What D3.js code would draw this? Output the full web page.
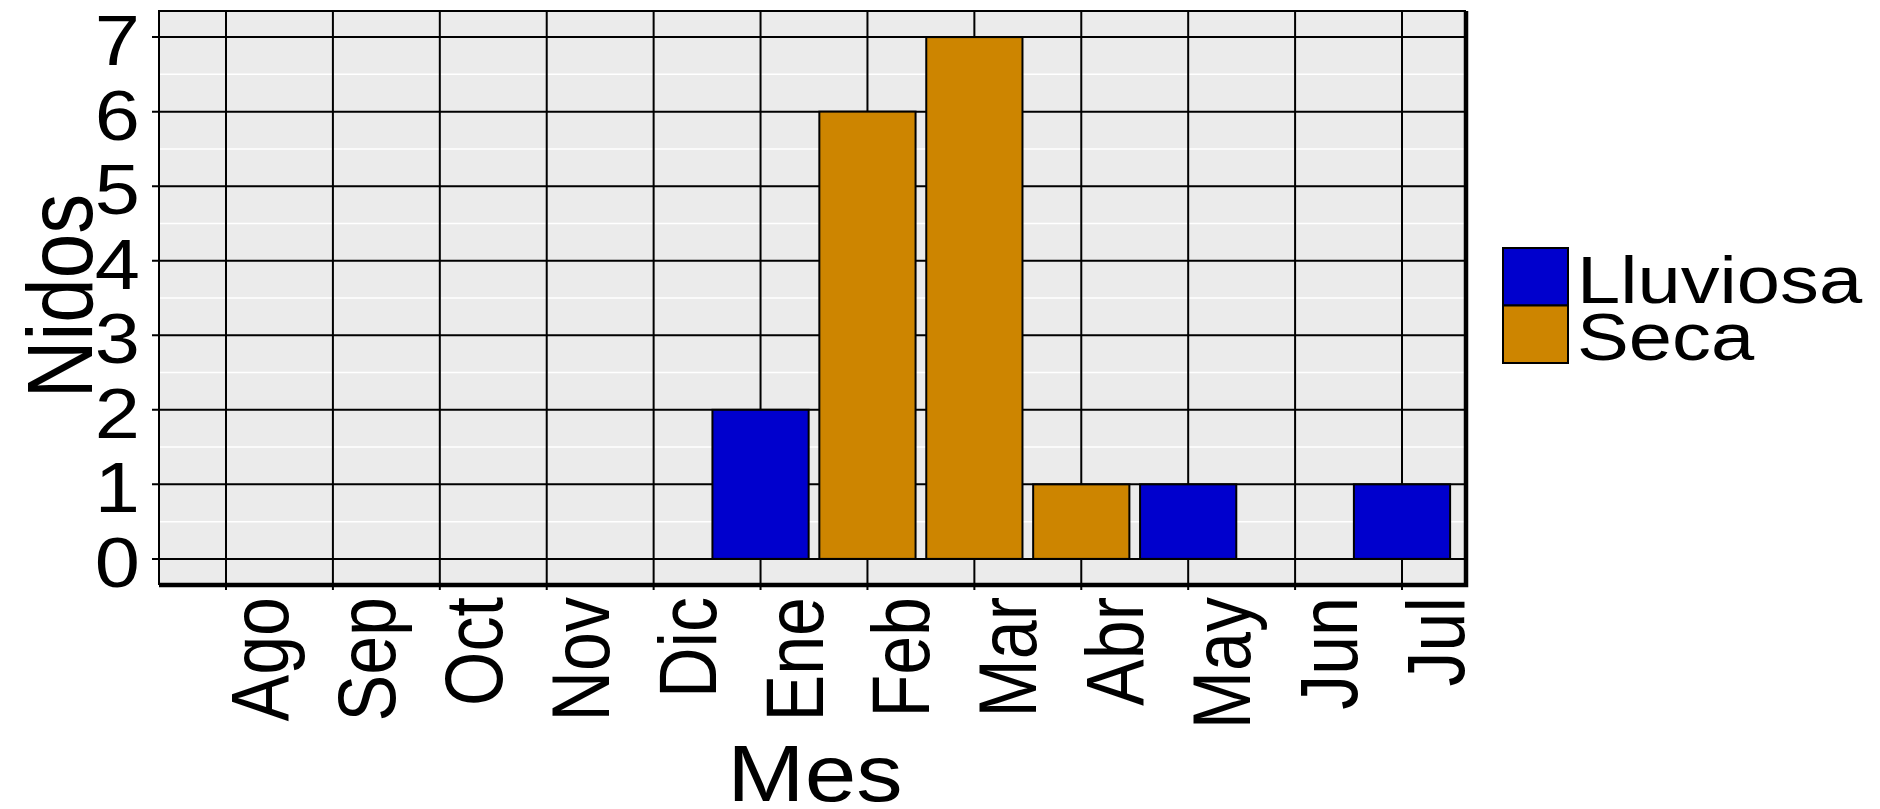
<!DOCTYPE html>
<html>
  <head>
    <meta charset="utf-8"/>
    <script type="text/javascript" src="https://cdnjs.cloudflare.com/ajax/libs/d3/7.8.5/d3.min.js"></script>
    <style type="text/css">

html, body {
  margin: 0;
  padding: 0;
  background: #fff;
}

svg text {
  font-family: "Liberation Sans", Arial, sans-serif;
  fill: #000;
}

    </style>
  </head>
  <body>
    <svg id="chart" width="1880" height="809"></svg>
    <script type="text/javascript">

// data
var months = ["Ago", "Sep", "Oct", "Nov", "Dic", "Ene", "Feb", "Mar", "Abr", "May", "Jun", "Jul"];
var nests  = [0, 0, 0, 0, 0, 2, 6, 7, 1, 1, 0, 1];
var season = ["", "", "", "", "", "Lluviosa", "Seca", "Seca", "Seca", "Lluviosa", "", "Lluviosa"];
var seasons = ["Lluviosa", "Seca"];
var yTicks = [0, 1, 2, 3, 4, 5, 6, 7];
var yMinor = [0.5, 1.5, 2.5, 3.5, 4.5, 5.5, 6.5];

var panel = {left: 159, right: 1466, top: 11, bottom: 585};
var sx = 1.16; // the original text is a bit stretched sideways

var svg = d3.select("#chart");

var x = d3.scalePoint().domain(months).range([226, 1402]);
var y = d3.scaleLinear().domain([-0.35, 7.35]).range([panel.bottom, panel.top]);
var color = d3.scaleOrdinal().domain(seasons).range(["#0000CD", "#CD8500"]);
var barW = x.step() * 0.9;

// panel background
svg.append("rect")
    .attr("x", panel.left)
    .attr("y", panel.top)
    .attr("width", panel.right - panel.left)
    .attr("height", panel.bottom - panel.top)
    .attr("fill", "#EBEBEB");

// minor grid
svg.append("g").selectAll("line")
    .data(yMinor)
  .enter().append("line")
    .attr("x1", panel.left).attr("x2", panel.right)
    .attr("y1", function(d) { return y(d); })
    .attr("y2", function(d) { return y(d); })
    .attr("stroke", "#fff")
    .attr("stroke-width", 1.5);

// major grid
svg.append("g").selectAll("line")
    .data(yTicks)
  .enter().append("line")
    .attr("x1", panel.left - 7).attr("x2", panel.right)
    .attr("y1", function(d) { return y(d); })
    .attr("y2", function(d) { return y(d); })
    .attr("stroke", "#000")
    .attr("stroke-width", 2);

svg.append("g").selectAll("line")
    .data(months)
  .enter().append("line")
    .attr("x1", function(d) { return x(d); })
    .attr("x2", function(d) { return x(d); })
    .attr("y1", panel.top).attr("y2", panel.bottom + 5)
    .attr("stroke", "#000")
    .attr("stroke-width", 2);

// bars
var rows = months.map(function(m, i) { return {month: m, n: nests[i], season: season[i]}; })
    .filter(function(d) { return d.n > 0; });

svg.append("g").selectAll("rect")
    .data(rows)
  .enter().append("rect")
    .attr("x", function(d) { return x(d.month) - barW / 2; })
    .attr("y", function(d) { return y(d.n); })
    .attr("width", barW)
    .attr("height", function(d) { return y(0) - y(d.n); })
    .attr("fill", function(d) { return color(d.season); })
    .attr("stroke", "#000")
    .attr("stroke-width", 2);

// panel border: thin top/left, heavy right/bottom
svg.append("path")
    .attr("d", "M" + panel.left + "," + panel.bottom + "V" + panel.top + "H" + panel.right)
    .attr("fill", "none")
    .attr("stroke", "#000")
    .attr("stroke-width", 2);
svg.append("path")
    .attr("d", "M" + panel.left + "," + panel.bottom + "H" + panel.right + "V" + panel.top)
    .attr("fill", "none")
    .attr("stroke", "#000")
    .attr("stroke-width", 4.5);

// y tick labels
svg.append("g").selectAll("text")
    .data(yTicks)
  .enter().append("text")
    .attr("transform", function(d) { return "translate(140," + (y(d) + 28) + ") scale(" + sx + ",1)"; })
    .attr("text-anchor", "end")
    .style("font-size", "70px")
    .text(function(d) { return d; });

// x tick labels, rotated
svg.append("g").selectAll("text")
    .data(months)
  .enter().append("text")
    .attr("transform", function(d) { return "translate(" + (x(d) + 62) + ",597) scale(" + sx + ",1) rotate(-90)"; })
    .attr("text-anchor", "end")
    .style("font-size", "70px")
    .text(function(d) { return d; });

// axis titles
svg.append("text")
    .attr("transform", "translate(815,801) scale(" + sx + ",1)")
    .attr("text-anchor", "middle")
    .style("font-size", "80px")
    .text("Mes");

svg.append("text")
    .attr("transform", "translate(92,296) scale(" + sx + ",1) rotate(-90)")
    .attr("text-anchor", "middle")
    .style("font-size", "80px")
    .text("Nidos");

// legend
var legend = svg.append("g").selectAll("g")
    .data(seasons)
  .enter().append("g");

legend.append("rect")
    .attr("x", 1503)
    .attr("y", function(d, i) { return 248 + i * 57.5; })
    .attr("width", 65)
    .attr("height", 57.5)
    .attr("fill", function(d) { return color(d); })
    .attr("stroke", "#000")
    .attr("stroke-width", 2);

legend.append("text")
    .attr("transform", function(d, i) { return "translate(1577," + (303 + i * 57) + ") scale(" + sx + ",1)"; })
    .style("font-size", "67px")
    .text(function(d) { return d; });

    </script>
  </body>
</html>
